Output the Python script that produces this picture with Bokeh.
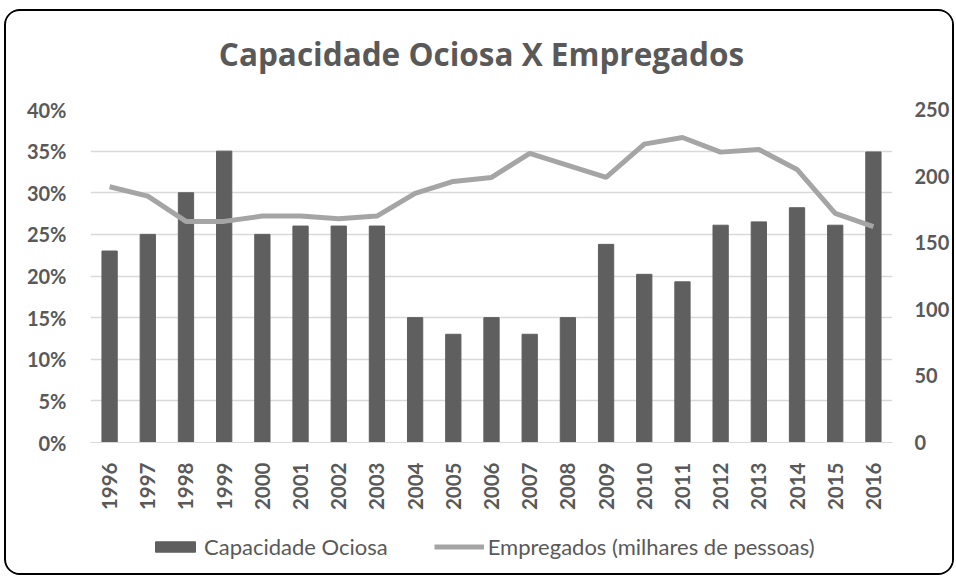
import math
from bokeh.plotting import figure
from bokeh.layouts import column
from bokeh.models import (Range1d, LinearAxis, FactorRange, PrintfTickFormatter,
                          FixedTicker, Legend, LegendItem, ColumnDataSource)
from bokeh.core.properties import value
from bokeh.embed import file_html
from bokeh.resources import INLINE

title = "Capacidade Ociosa X Empregados"
years = [str(y) for y in range(1996, 2017)]
capacidade = [23, 25, 30, 35, 25, 26, 26, 26, 15, 13, 15, 13, 15, 23.8, 20.2, 19.3,
              26.1, 26.5, 28.2, 26.1, 34.9]
empregados = [192, 185, 166, 166, 170, 170, 168, 170, 187, 196, 199, 217, 208, 199,
              224, 229, 218, 220, 205, 172, 162]
left_ticks = [0, 5, 10, 15, 20, 25, 30, 35, 40]
right_ticks = [0, 50, 100, 150, 200, 250]

FONT = "Lato"
TXT = "#595959"
BAR = "#5f5f5f"
LINE = "#a5a5a5"
W = 946
NAN = float("nan")


def strip(height):
    f = figure(width=W, height=height, x_range=Range1d(0, 1), y_range=Range1d(0, 1),
               x_axis_type=None, y_axis_type=None, output_backend="svg",
               toolbar_location=None, min_border=0)
    f.outline_line_color = None
    f.grid.grid_line_color = None
    f.background_fill_color = "white"
    f.border_fill_color = "white"
    return f


# title strip (its frame lines up with the chart frame inside the column)
pt = strip(84)
pt.text(x=[0.5], y=[0.5], text=[title], text_align="center", text_baseline="middle",
        x_offset=-10, y_offset=0, text_font=value("Open Sans"), text_font_size="31.5px",
        text_font_style="bold", text_color=TXT)

src = ColumnDataSource(dict(year=years, cap=capacidade, emp=empregados))

p = figure(width=W, height=435, x_range=FactorRange(*years, range_padding=0),
           y_range=Range1d(0, 40), output_backend="svg", toolbar_location=None,
           min_border_left=84, min_border_right=60, min_border_top=14,
           min_border_bottom=88)
p.extra_y_ranges = {"emp": Range1d(0, 250)}

p.outline_line_color = None
p.background_fill_color = "white"
p.border_fill_color = "white"

p.vbar(x="year", top="cap", width=0.4, source=src, color=BAR)
p.line(x="year", y="emp", source=src, y_range_name="emp",
       line_color=LINE, line_width=5)

p.xgrid.grid_line_color = None
p.ygrid.grid_line_color = "#d9d9d9"
p.ygrid.grid_line_width = 1.5
p.ygrid.ticker = FixedTicker(ticks=left_ticks)

ya = p.yaxis[0]
ya.ticker = FixedTicker(ticks=left_ticks)
ya.formatter = PrintfTickFormatter(format="%d%%")
ra = LinearAxis(y_range_name="emp", ticker=FixedTicker(ticks=right_ticks))
p.add_layout(ra, "right")

for ax in [ya, ra]:
    ax.axis_line_color = None
    ax.major_tick_line_color = None
    ax.minor_tick_line_color = None
    ax.major_label_text_font = FONT
    ax.major_label_text_font_size = "20px"
    ax.major_label_text_font_style = "bold"
    ax.major_label_text_color = TXT
ya.major_label_standoff = 18
ra.major_label_standoff = 16

xa = p.xaxis[0]
xa.axis_line_color = "#d9d9d9"
xa.major_tick_line_color = None
xa.minor_tick_line_color = None
xa.major_label_orientation = math.pi / 2
xa.major_label_text_font = FONT
xa.major_label_text_font_size = "20.5px"
xa.major_label_text_font_style = "bold"
xa.major_label_text_color = TXT
xa.major_label_standoff = 14

# legend strip
pl = strip(43)
lb = pl.vbar(x=[NAN], top=[NAN], width=0.4, color=BAR)
ll = pl.line(x=[NAN], y=[NAN], line_color=LINE, line_width=5)
legend = Legend(items=[LegendItem(label="Capacidade Ociosa", renderers=[lb]),
                       LegendItem(label="Empregados (milhares de pessoas)", renderers=[ll])],
                orientation="horizontal", location=(60, 13),
                label_text_font=FONT, label_text_font_size="22px", label_text_color=TXT,
                glyph_width=50, glyph_height=13, label_standoff=4, spacing=46,
                border_line_color=None, background_fill_alpha=0, margin=0, padding=0)
pl.add_layout(legend, "center")

layout = column(pt, p, pl, spacing=0,
                styles={"border": "2px solid black", "border-radius": "16px",
                        "overflow": "hidden", "margin": "9px 0 0 4px"})

open("out.html", "w").write(file_html(layout, INLINE))
